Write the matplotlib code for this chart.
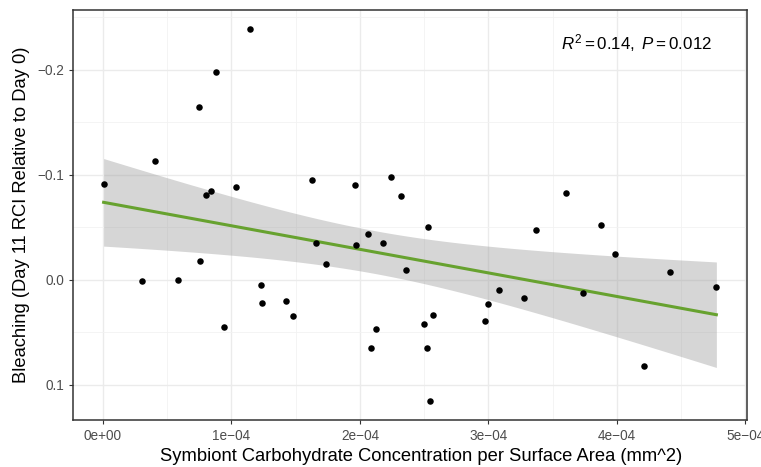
import numpy as np
import matplotlib
matplotlib.use("Agg")
import matplotlib.pyplot as plt
from matplotlib.ticker import MultipleLocator, FuncFormatter

plt.rcParams["font.family"] = ["Liberation Sans", "DejaVu Sans"]
plt.rcParams["mathtext.fontset"] = "custom"
plt.rcParams["mathtext.rm"] = "Liberation Sans"
plt.rcParams["mathtext.it"] = "Liberation Sans:italic"

# carbohydrate concentration (x 1e-4) and bleaching values
carb_e4 = [0.005, 0.304, 0.407, 0.582, 0.750, 0.753, 0.800, 0.839, 0.883, 0.945,
           1.033, 1.142, 1.228, 1.236, 1.425, 1.477, 1.623, 1.659, 1.739, 1.958,
           1.968, 2.060, 2.087, 2.128, 2.180, 2.243, 2.316, 2.360, 2.500, 2.526,
           2.523, 2.544, 2.570, 2.973, 2.993, 3.082, 3.279, 3.370, 3.600, 3.733,
           3.876, 3.988, 4.213, 4.410, 4.774]
bleach = [-0.091, 0.001, -0.113, 0.000, -0.164, -0.018, -0.081, -0.084, -0.198, 0.045,
          -0.088, -0.239, 0.005, 0.022, 0.020, 0.035, -0.095, -0.035, -0.015, -0.090,
          -0.033, -0.043, 0.065, 0.047, -0.035, -0.098, -0.080, -0.009, 0.042, -0.050,
          0.065, 0.116, 0.034, 0.039, 0.023, 0.010, 0.018, -0.047, -0.082, 0.013,
          -0.052, -0.024, 0.082, -0.007, 0.007]
label_text = r"$R^2 = 0.14,\ P = 0.012$"

x = np.array(carb_e4) * 1e-4
y = np.array(bleach)

# linear fit with 95% confidence band (like geom_smooth(method = "lm"))
n = len(x)
slope, intercept = np.polyfit(x, y, 1)
resid = y - (intercept + slope * x)
s = np.sqrt(np.sum(resid ** 2) / (n - 2))
t_crit = 2.0167  # t(0.975, df=43)
xs = np.linspace(x.min(), x.max(), 100)
ys = intercept + slope * xs
se = s * np.sqrt(1 / n + (xs - x.mean()) ** 2 / np.sum((x - x.mean()) ** 2))

fig = plt.figure(figsize=(7.61, 4.67), dpi=100)
ax = fig.add_axes([0.0959, 0.1006, 0.8857, 0.878])

ax.fill_between(xs, ys - t_crit * se, ys + t_crit * se, color="#999999", alpha=0.4,
                linewidth=0, zorder=2)
ax.plot(xs, ys, color="#67A22F", linewidth=2.2, zorder=3)
ax.scatter(x, y, s=22, color="black", linewidths=0, zorder=4)

xr = x.max() - x.min()
yr = y.max() - y.min()
ax.set_xlim(x.min() - 0.05 * xr, x.max() + 0.05 * xr)
ax.set_ylim(y.max() + 0.05 * yr, y.min() - 0.05 * yr)  # reversed y

ax.xaxis.set_major_locator(MultipleLocator(1e-4))
ax.xaxis.set_minor_locator(MultipleLocator(0.5e-4))
ax.yaxis.set_major_locator(MultipleLocator(0.1))
ax.yaxis.set_minor_locator(MultipleLocator(0.05))

def sci(v, pos):
    if abs(v) < 1e-12:
        return "0e+00"
    m, e = f"{v:.0e}".split("e")
    return f"{m}e{e}".replace("-", "\u2212")

ax.xaxis.set_major_formatter(FuncFormatter(sci))
ax.yaxis.set_major_formatter(FuncFormatter(lambda v, p: f"{v:.1f}".replace("-", "\u2212")))

ax.grid(which="major", color="#EBEBEB", linewidth=1.0, zorder=0)
ax.grid(which="minor", color="#F2F2F2", linewidth=0.6, zorder=0)
ax.set_axisbelow(True)
for sp in ax.spines.values():
    sp.set_color("#333333")
    sp.set_linewidth(1.1)
ax.tick_params(which="major", length=3, width=0.8, color="#333333",
               labelcolor="#4D4D4D", labelsize=9.8)
ax.tick_params(which="minor", length=0)

ax.set_xlabel("Symbiont Carbohydrate Concentration per Surface Area (mm^2)",
              fontsize=13.2, labelpad=3)
ax.xaxis.set_label_coords(0.516, -0.068)
ax.set_ylabel("Bleaching (Day 11 RCI Relative to Day 0)", fontsize=13.2, labelpad=5)

ax.text(0.948, 0.92, label_text, transform=ax.transAxes, ha="right", va="center",
        fontsize=12.2)

fig.savefig("out.png", dpi=100)
